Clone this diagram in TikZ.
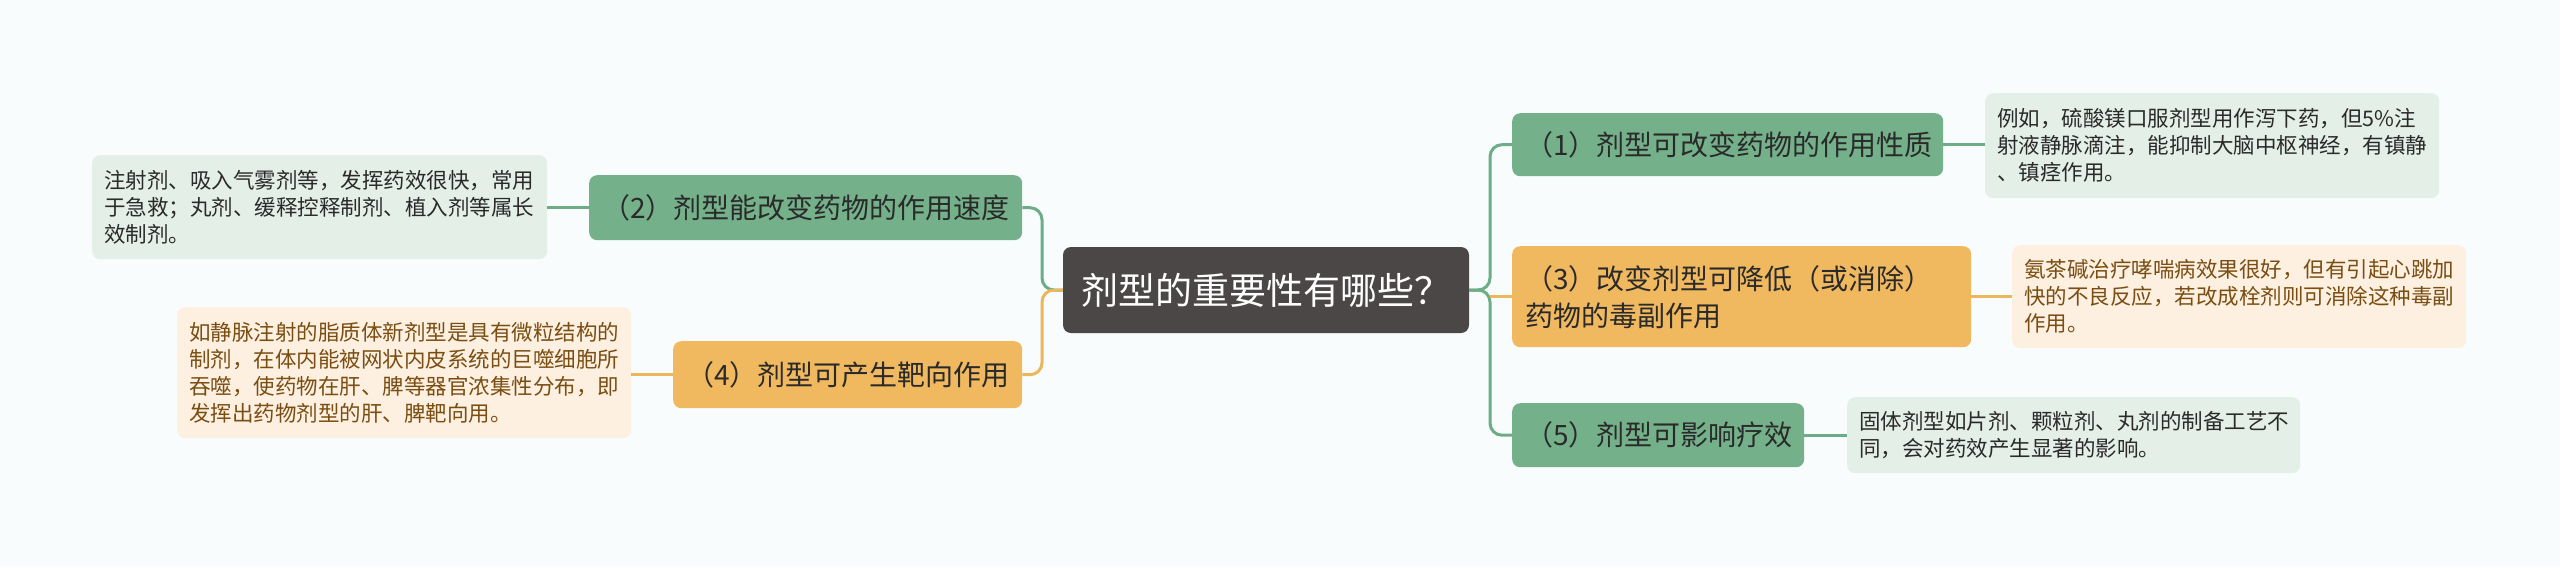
\documentclass[tikz,border=0pt]{standalone}
\usepackage{fontspec}
\newfontfamily\cjk{Noto Sans CJK SC}
\definecolor{bgc}{HTML}{F8FCFD}
\definecolor{gfill}{HTML}{74B18B}
\definecolor{gline}{HTML}{6DAD86}
\definecolor{ofill}{HTML}{F0B960}
\definecolor{oline}{HTML}{EBB75B}
\definecolor{cfill}{HTML}{4B4747}
\definecolor{gnote}{HTML}{E4EFE7}
\definecolor{onote}{HTML}{FDF0E1}
\definecolor{btext}{HTML}{7A4E12}
\definecolor{dtext}{HTML}{2A2A2A}
\tikzset{
  centerbox/.style={rectangle, rounded corners=8pt, fill=cfill, text=white,
    minimum width=406pt, minimum height=86pt, inner sep=0pt,
    font=\cjk\fontsize{37}{44}\selectfont},
  topic/.style={rectangle, rounded corners=8pt, anchor=north west, inner xsep=13pt, inner ysep=0pt,
    text width=#1, align=left, text=dtext, font=\cjk\fontsize{28}{37}\selectfont},
  gtopic/.style={topic=#1, fill=gfill},
  otopic/.style={topic=#1, fill=ofill},
  note/.style={rectangle, rounded corners=8pt, anchor=north west, inner xsep=12pt, inner ysep=0pt,
    text width=#1, align=left, font=\cjk\fontsize{21.5}{27}\selectfont},
  gnotebox/.style={note=#1, fill=gnote, text=dtext},
  onotebox/.style={note=#1, fill=onote, text=btext},
  gconn/.style={draw=gline, line width=3pt, rounded corners=12pt},
  oconn/.style={draw=oline, line width=3pt, rounded corners=12pt},
}
\begin{document}
\begin{tikzpicture}[x=1pt,y=-1pt]
\useasboundingbox[fill=bgc] (0,0) rectangle (2560,566);

% central
\node[centerbox] (c) at (1266,290) {剂型的重要性有哪些？};

% right topics
\node[gtopic=405pt, minimum height=63pt] (n1) at (1512,113) {\mbox{（1）剂型可改变药物的作用性质}};
\node[otopic=433pt, minimum height=101pt] (n3) at (1512,246) {\mbox{（3）改变剂型可降低（或消除）}\\\mbox{药物的毒副作用}};
\node[gtopic=266pt, minimum height=64pt] (n5) at (1512,403) {\mbox{（5）剂型可影响疗效}};

% left topics
\node[gtopic=407pt, minimum height=65pt] (n2) at (589,175) {\mbox{（2）剂型能改变药物的作用速度}};
\node[otopic=323pt, minimum height=67pt] (n4) at (673,341) {\mbox{（4）剂型可产生靶向作用}};

% notes
\node[gnotebox=430pt, minimum height=105pt] (t1) at (1985,93)
  {\mbox{例如，硫酸镁口服剂型用作泻下药，但5\%注}\\\mbox{射液静脉滴注，能抑制大脑中枢神经，有镇静}\\\mbox{、镇痉作用。}};
\node[onotebox=430pt, minimum height=103pt] (t3) at (2012,245)
  {\mbox{氨茶碱治疗哮喘病效果很好，但有引起心跳加}\\\mbox{快的不良反应，若改成栓剂则可消除这种毒副}\\\mbox{作用。}};
\node[gnotebox=429pt, minimum height=76pt] (t5) at (1847,397)
  {\mbox{固体剂型如片剂、颗粒剂、丸剂的制备工艺不}\\\mbox{同，会对药效产生显著的影响。}};
\node[gnotebox=431pt, minimum height=104pt] (t2) at (92,155)
  {\mbox{注射剂、吸入气雾剂等，发挥药效很快，常用}\\\mbox{于急救；丸剂、缓释控释制剂、植入剂等属长}\\\mbox{效制剂。}};
\node[onotebox=430pt, minimum height=131pt] (t4) at (177,307)
  {\mbox{如静脉注射的脂质体新剂型是具有微粒结构的}\\\mbox{制剂，在体内能被网状内皮系统的巨噬细胞所}\\\mbox{吞噬，使药物在肝、脾等器官浓集性分布，即}\\\mbox{发挥出药物剂型的肝、脾靶向用。}};

% trunks
\coordinate (rt) at (1490,290);
\coordinate (lt) at (1042,290);

\draw[gconn] (c.east) -- (rt) |- (n1.west);
\draw[gconn] (c.east) -- (rt) |- (n5.west);
\draw[oconn] (rt |- n3.west) -- (n3.west);
\draw[gconn] (c.west) -- (lt) |- (n2.east);
\draw[oconn] (c.west) -- (lt) |- (n4.east);

% topic to note
\draw[gconn] (n1.east) -- (n1.east -| t1.west);
\draw[oconn] (n3.east) -- (n3.east -| t3.west);
\draw[gconn] (n5.east) -- (n5.east -| t5.west);
\draw[gconn] (n2.west) -- (n2.west -| t2.east);
\draw[oconn] (n4.west) -- (n4.west -| t4.east);
\end{tikzpicture}
\end{document}
